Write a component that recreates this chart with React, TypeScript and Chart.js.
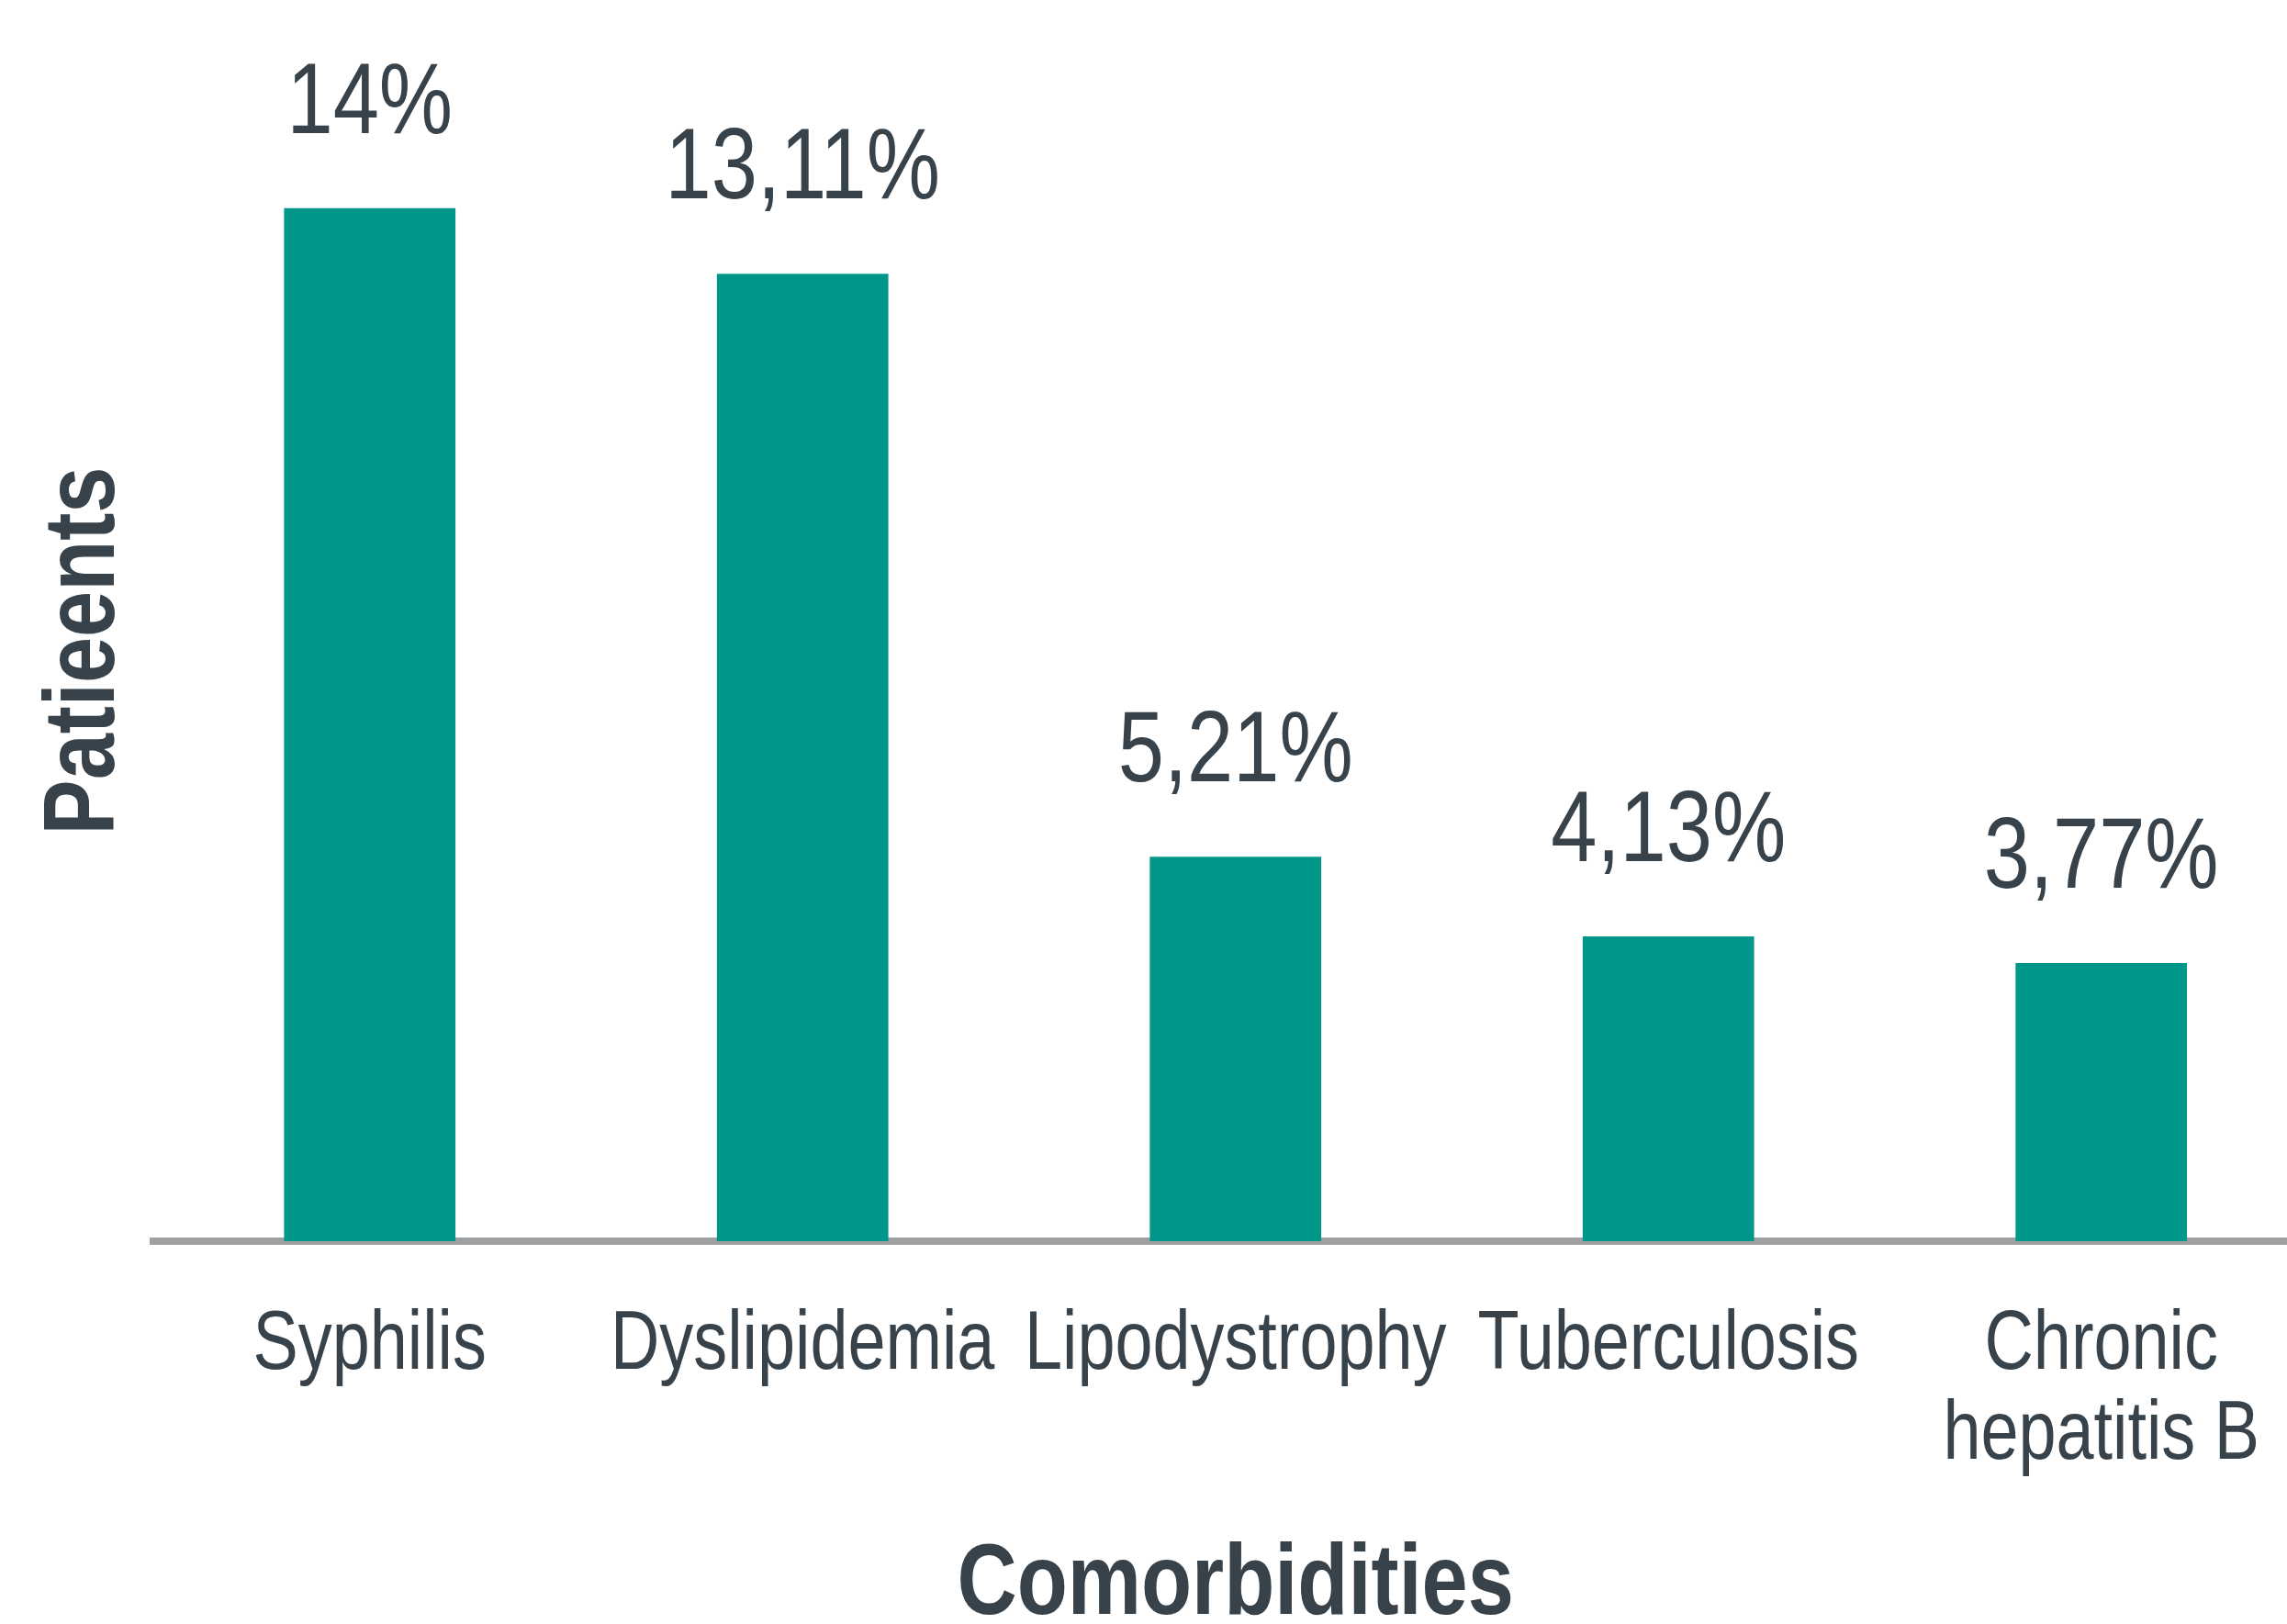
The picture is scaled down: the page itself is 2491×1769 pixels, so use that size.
import React, { useEffect, useRef } from "react";
import { Chart, registerables } from "chart.js";

Chart.register(...registerables);

const categories: (string | string[])[] = [
  "Syphilis",
  "Dyslipidemia",
  "Lipodystrophy",
  "Tuberculosis",
  ["Chronic", "hepatitis B"],
];
const patientShares: number[] = [14, 13.11, 5.21, 4.13, 3.77];
const xTitle = "Comorbidities";
const yTitle = "Patieents";

const FAMILY = "'Liberation Sans', Arial, sans-serif";
const NARROW = 0.82; // Arial Narrow is a horizontally compressed Arial
const TEXT = "#37424A";
const BAR = "#00978A";
const AXIS = "#9DA0A3";

const CW = 2526;
const CH = 1790;

const valueLabels = {
  id: "valueLabels",
  afterDatasetsDraw(chart: any) {
    const ctx = chart.ctx;
    const meta = chart.getDatasetMeta(0);
    ctx.save();
    ctx.fillStyle = TEXT;
    ctx.font = `normal 110px ${FAMILY}`;
    ctx.textAlign = "center";
    ctx.textBaseline = "alphabetic";
    meta.data.forEach((el: any, i: number) => {
      const txt = String(patientShares[i]).replace(".", ",") + "%";
      ctx.fillText(txt, el.x, el.y - 82);
    });
    ctx.restore();
  },
};

function makeNarrow(ctx: CanvasRenderingContext2D) {
  const origFill = ctx.fillText.bind(ctx);
  const origMeasure = ctx.measureText.bind(ctx);
  (ctx as any).fillText = (text: string, x: number, y: number, maxWidth?: number) => {
    ctx.save();
    ctx.translate(x, y);
    ctx.scale(NARROW, 1);
    if (maxWidth !== undefined) origFill(text, 0, 0, maxWidth / NARROW);
    else origFill(text, 0, 0);
    ctx.restore();
  };
  (ctx as any).measureText = (text: string) => {
    const m = origMeasure(text);
    return {
      width: m.width * NARROW,
      actualBoundingBoxAscent: m.actualBoundingBoxAscent,
      actualBoundingBoxDescent: m.actualBoundingBoxDescent,
      actualBoundingBoxLeft: m.actualBoundingBoxLeft * NARROW,
      actualBoundingBoxRight: m.actualBoundingBoxRight * NARROW,
    };
  };
}

export default function App() {
  const ref = useRef<HTMLCanvasElement | null>(null);
  useEffect(() => {
    if (!ref.current) return;
    const ctx = ref.current.getContext("2d");
    if (!ctx) return;
    makeNarrow(ctx);
    const chart = new Chart(ctx, {
      type: "bar",
      data: {
        labels: categories as any,
        datasets: [
          {
            data: patientShares,
            backgroundColor: BAR,
            borderWidth: 0,
            categoryPercentage: 1,
            barPercentage: 0.396,
          },
        ],
      },
      options: {
        responsive: false,
        animation: false,
        devicePixelRatio: 1,
        layout: { padding: { top: 66, left: 0, right: 0, bottom: 0 } },
        plugins: {
          legend: { display: false },
          tooltip: { enabled: false },
        },
        scales: {
          x: {
            z: 1,
            offset: true,
            grid: { display: false, drawTicks: false },
            border: { display: true, color: AXIS, width: 8 },
            ticks: {
              color: TEXT,
              padding: 65,
              maxRotation: 0,
              minRotation: 0,
              autoSkip: false,
              font: { family: FAMILY, size: 90, lineHeight: 1.089 },
            },
            title: {
              display: true,
              text: xTitle,
              color: TEXT,
              font: { family: FAMILY, size: 110, weight: "bold", lineHeight: 0.8 },
              padding: { top: 6, bottom: CH - 1772 },
            },
          },
          y: {
            min: 0,
            max: 16,
            grid: { display: false, drawTicks: false },
            border: { display: false },
            ticks: { display: false },
            title: {
              display: true,
              text: yTitle,
              color: TEXT,
              font: { family: FAMILY, size: 110, weight: "bold", lineHeight: 1 },
              padding: { top: 39, bottom: 18 },
            },
          },
        },
      },
      plugins: [valueLabels],
    });
    return () => chart.destroy();
  }, []);

  return (
    <div
      style={{
        position: "fixed",
        left: 0,
        top: 0,
        width: "100vw",
        height: "100vh",
        overflow: "hidden",
        background: "#ffffff",
      }}
    >
      <canvas ref={ref} width={CW} height={CH} style={{ display: "block", width: CW, height: CH }} />
    </div>
  );
}
